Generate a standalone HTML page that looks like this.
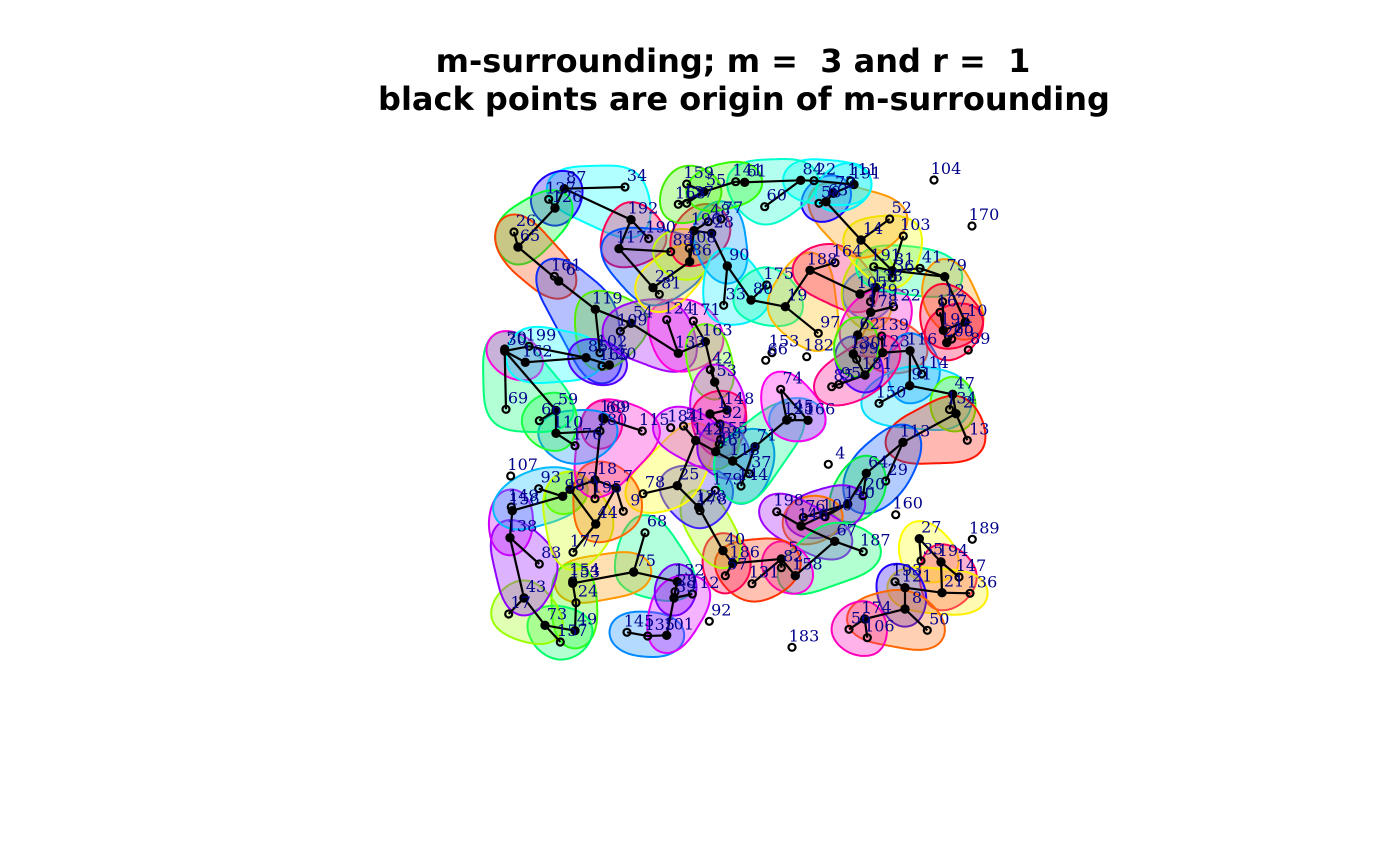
<!DOCTYPE html>
<html lang="en">
<head>
<meta charset="utf-8">
<title>m-surrounding chart</title>
<style>
html,body{margin:0;padding:0;background:#fff;}
svg{display:block;}
.title{font-family:"DejaVu Sans",sans-serif;font-weight:bold;font-size:32px;fill:#000;white-space:pre;}
.lbl{font-family:"DejaVu Serif",serif;font-size:16px;fill:#00008b;text-anchor:middle;}
</style>
</head>
<body>
<svg id="chart" xmlns="http://www.w3.org/2000/svg" width="1400" height="866" viewBox="0 0 1400 866">
  <text class="title" x="733" y="72" text-anchor="middle" xml:space="preserve">m-surrounding; m =  3 and r =  1</text>
  <text class="title" x="744" y="110" text-anchor="middle">black points are origin of m-surrounding</text>
  <g id="hulls"></g>
  <g id="links"></g>
  <g id="points"></g>
  <g id="labels"></g>
</svg>
<script>
const pointIds=["34","87","127","126","26","65","161","6","119","102",
"54","109","192","190","117","88","86","108","23","81",
"124","171","163","133","42","53","70","30","199","162",
"85","165","120","69","59","66b","110","176","169","69b",
"180","18","173","98","93","195","7","9","44","177",
"138","156","149b","83","43","17","73","157","49","24",
"154","153b","75","68","78","25","179","128","178b","40",
"186","57","132","29b","39","112","145","135","101","92",
"107","115","184","51","1","148","32","142","155","38",
"46","118","71","37","144","159","55","168","137","196",
"48","28","77","90","33","141","61","60","84","22",
"111","191","72","63","58","14","52","103","104","170",
"191b","31","36","41","79","164","188","97","19","80",
"175","153","66","182","74","85b","95","105","138b","149",
"122","178","62","139","123","116","130","99","181","114",
"91","150","47","134","2","13","12","167","10","197",
"200","15","89","125","45","166","4","113","64","29",
"20","160","140","100","198","76","146","67","187","5",
"82","158","131","27","189","35","194","147","193","121",
"21","136","8","50","174","56","106","183"];
const xValues=[145,84.3,68.7,75,34,38,74.3,78.7,115.3,120,
151,140.3,151,168.7,139,190.7,209.7,209.3,173,179.3,
186.7,213.3,225.3,198.3,230.3,234.7,24.7,24.7,49,45.3,
106,122,129.3,26,76,59.3,76,95,123,124,
120,115,90,82.7,58.7,115,136,143.3,115.7,93,
30,32.3,31.3,59.3,44,28.7,65,80.3,95,96,
92.7,92.7,153.7,165,163,197.3,235.3,218.7,220,243,
252.7,245.3,197.3,195,194,212.3,147,167.7,186.7,229.3,
30.7,162.3,190.7,203.5,230,247,240,215.7,240.7,239.3,
235.7,252.7,275,269.3,261,206.7,224,198.3,206.7,214,
228.3,231.7,241,247.3,243.7,255.7,264.7,284.7,320.7,334,
370.7,374,353.3,346,339,381,409.7,423.3,454,492,
393.7,412.3,412.3,440,464.7,355,330,338.3,305.3,271,
286.7,292,285.7,326.7,300.7,351.7,359,380,395.7,390.5,
413.5,390.7,377.7,401.7,402.7,430,373.3,376.7,385,441.7,
429.7,399,472.7,469.5,476,487.3,462.7,460,485.3,463.3,
466.7,471.7,488.3,306.7,311.7,328,348.3,423,386.3,405.7,
383,415.7,367.7,345,296.7,323.3,321,354.7,383.3,301.3,
301.3,315.3,272,439.3,492.3,441,461,479,415,425,
462,490,425,447.3,384.7,369,387.3,312];
const yValues=[483,481.3,470.7,462,438,423,393.7,389,360.7,317.3,
346.7,338.7,450.3,431.3,421.3,418.3,408.3,421.7,382.3,375.7,
350.3,349,328.3,316.7,300.3,288,321,319,323.7,307.7,
312.3,304,305,260.7,259.5,249.3,236.7,224.3,252,251,
239,190,180.7,173.7,181.3,171.3,182.3,158.7,146,117.7,
132.3,159.3,163,106,72,56,44.7,28,39.3,67.3,
89,86.7,98,137.3,176.3,184.3,179.7,162.7,159.3,119.3,
106.7,94.3,88.3,78.3,72,76,37.7,34,34.7,48.7,
194,239,242.3,244,256,260,246,229.5,230.7,225.7,
218.3,209,223.3,196.3,184,486,478.3,465.7,466.7,439.3,
448.3,436.7,451,404,364.7,488.3,487.7,463.3,489.7,489.3,
489,485.5,476.7,468.3,466.7,430,451,434,490,444,
403.3,399.3,392.3,401.7,393.3,407.3,399.7,336.7,363.3,370,
385,317.3,309.7,313.3,280.7,283.3,285.7,376,382.7,368.3,
363.3,357.7,335,334,317.3,319.3,316,310.7,295,296,
284.3,266.7,275.7,260.5,256.3,229.7,368.3,357.7,348,339.7,
327.3,331,320,250,252.7,249.7,205.7,227.7,196.7,189,
174.3,155.3,166,153.3,158.3,152.7,144,128.7,118.3,111,
102.3,94.3,86.3,131.3,130.7,109.3,108,93,88.3,82.3,
77.3,76.7,61,39.7,51,40.7,32.3,22.7];
const originIds=["87","126","65","6","119","54","192","117","86","23","163","133","53","30","162","85","120","59","110","169","69b","18","173","98","7","44","138","156","43","73","49","153b","75","25","128","40","186","132","39","101","1","148","142","46","118","71","55","196","28","90","61","84","191","63","72","14","31","79","188","19","80","105","138b","178","62","123","116","130","181","91","47","2","10","197","200","125","166","113","64","140","146","67","5","158","27","194","121","21","8","174"];
const hullMembers=[
["34","87","192"],["87","127","126"],["26","65","126"],["26","65","161","6"],["161","6","119","165"],
["119","54","109","102"],["54","109","133","124"],["124","171","133","163"],["192","190","117"],["117","88","86","23"],
["23","81","86"],["88","86","108"],["196","48","28","108"],["77","28","90"],["90","33","80"],
["80","175","19"],["19","97","188"],["188","164","105"],["105","138b","149"],["191b","105","178"],
["62","178","122","139"],["139","123","116"],["116","114","91"],["150","91","47","134"],["47","134","2"],
["2","13","113"],["113","64","29","20"],["64","20","140"],["140","100","76"],["146","76","100"],
["198","146","67"],["67","187","158"],["5","82","158"],["186","5","82","131"],["40","186","57"],
["128","178b","40"],["25","179","128","178b"],["78","25","142"],["75","68","132"],["154","153b","75"],
["154","153b","24","49"],["73","157","49"],["43","17","73"],["138","83","43"],["149b","156","138"],
["149b","156","93","98","173"],["98","173"],["98","173","44","177"],["18","7","9","44"],["169","115","180","18"],
["169","69b","180"],["110","176","180"],["59","66b","110"],["30","70","69","59"],["30","70","162"],
["199","162","85"],["85","165","120"],["163","42","53"],["53","1","148","32"],["1","148","32","155"],
["184","51","142","46"],["46","155","38"],["118","46","155"],["71","37","144","118"],["125","118","144"],
["125","45","166"],["74","125","166"],["85b","95","181","123"],["130","99","181"],["62","130","99"],
["191b","31","41","79"],["14","103","31"],["63","14","52"],["58","63","72"],["72","111","191"],
["84","22","191"],["61","60","84"],["55","141","61"],["159","168","137","55"],["79","12","10"],
["12","167","197","10"],["197","200","15","10"],["27","35","194"],["194","147","21"],["121","21","136"],
["193","121","8"],["8","50","174"],["174","56","106"],["145","135","101"],["101","39","112"],["132","29b","39"]];
const hullColors=[
"#00ffff","#1a00ff","#00ff33","#ff4400","#0f2fff",
"#55ee00","#a000ff","#ff00e0","#ff0055","#0050ff",
"#ffee00","#bfff00","#ff0044","#00a0ff","#00f0ff",
"#00ffaa","#ffbb00","#ff0060","#3060ff","#ccdd00",
"#ff00cc","#ff5533","#0080ff","#00ddff","#55ff00",
"#ff1500","#0055ff","#00ee44","#8800ff","#ff7000",
"#a000ff","#00ff66","#ff00dd","#ff3300","#ff0055",
"#aaff00","#4020ff","#ffff00","#00ff88","#ff9900",
"#44ff00","#00ff66","#99ff00","#9000ff","#cc00ff",
"#00bbff","#33ff00","#ccff00","#ff6a00","#ff00cc",
"#ff0099","#0090ff","#22ff33","#00ff77","#ff00e0",
"#00ffff","#5000ff","#66ff00","#cc00ff","#ff0066",
"#cc00ff","#aadd00","#8a00ff","#0077ff","#00ff88",
"#00ccff","#ff00ee","#ff0088","#5500ff","#44ee00",
"#00ff99","#eeff00","#ff9900","#1a00ff","#00f0ff",
"#00ffff","#00ffcc","#33ff00","#44ee00","#ff9900",
"#ff0033","#ff0040","#ffff00","#ff0066","#ffee00",
"#2200ff","#ff6600","#ff00bb","#0088ff","#dd00ff","#7700ff"];
const linkPairs=[
["87","34"],["87","192"],["87","126"],["126","127"],["126","65"],["65","26"],["65","6"],["6","161"],["6","119"],["119","102"],
["119","54"],["54","109"],["54","133"],["133","124"],["133","163"],["163","171"],["163","53"],["53","42"],["53","148"],
["192","117"],["192","190"],["117","88"],["117","23"],["23","86"],["23","81"],["86","108"],["86","196"],["196","48"],["196","28"],
["28","90"],["90","33"],["90","80"],["80","175"],["80","19"],["19","188"],["19","97"],["188","164"],["188","105"],
["105","138b"],["138b","149"],["138b","178"],["178","122"],["178","62"],["62","130"],["130","99"],["130","181"],
["181","85b"],["181","95"],["181","123"],["123","139"],["123","116"],["116","114"],["116","91"],["91","150"],["91","47"],
["47","134"],["47","2"],["2","13"],["2","113"],["113","29"],["113","64"],["64","20"],["64","140"],["140","76"],["140","100"],["140","146"],
["146","198"],["146","67"],["67","187"],["67","158"],["158","5"],["5","82"],["5","186"],["5","131"],["186","57"],["186","40"],
["40","128"],["128","178b"],["128","25"],["128","179"],["25","78"],["25","142"],["142","51"],["142","46"],["46","118"],["46","155"],["46","38"],
["1","148"],["1","32"],["32","155"],["118","71"],["118","37"],["71","144"],["71","125"],["125","74"],["125","45"],["125","166"],["166","74"],
["30","69"],["30","70"],["30","199"],["30","162"],["30","59"],["162","85"],["199","85"],["85","120"],["120","165"],
["59","66b"],["59","110"],["110","176"],["110","180"],["180","169"],["180","18"],["169","115"],["169","69b"],
["18","195"],["18","7"],["7","9"],["7","44"],["18","173"],["44","173"],["44","177"],["98","93"],["98","173"],["98","156"],
["156","149b"],["156","138"],["138","83"],["138","43"],["43","17"],["43","73"],["73","157"],["73","49"],["49","24"],["24","153b"],["153b","154"],
["153b","75"],["75","68"],["75","132"],["132","29b"],["132","39"],["39","29b"],["39","112"],["39","101"],["101","135"],["135","145"],
["159","55"],["168","55"],["137","55"],["55","141"],["141","61"],["61","84"],["84","60"],["84","22"],["22","191"],["191","111"],["191","72"],["72","63"],["58","63"],
["63","14"],["14","52"],["14","31"],["31","103"],["31","191b"],["31","36"],["31","41"],["31","79"],["79","41"],["79","10"],
["197","12"],["197","167"],["197","10"],["200","15"],["200","197"],["200","10"],
["27","35"],["27","194"],["194","147"],["194","21"],["21","136"],["21","121"],["121","193"],["121","8"],["8","50"],["8","174"],["174","56"],["174","106"]];

const svgNS="http://www.w3.org/2000/svg";
const xScale=v=>480+v;
const yScale=v=>670-v;
const hullRadius=22;
const smoothSpan=12;
const pointIndex={};
pointIds.forEach((id,i)=>{pointIndex[id]=i;});
function px(id){const i=pointIndex[id];return [xScale(xValues[i]),yScale(yValues[i])];}
function convexHull(pts){
  const s=pts.slice().sort((a,b)=>a[0]-b[0]||a[1]-b[1]);
  const cross=(o,a,b)=>(a[0]-o[0])*(b[1]-o[1])-(a[1]-o[1])*(b[0]-o[0]);
  const lo=[];
  for(const p of s){while(lo.length>=2&&cross(lo[lo.length-2],lo[lo.length-1],p)<=0)lo.pop();lo.push(p);}
  const up=[];
  for(const p of s.slice().reverse()){while(up.length>=2&&cross(up[up.length-2],up[up.length-1],p)<=0)up.pop();up.push(p);}
  lo.pop();up.pop();
  return lo.concat(up);
}
function hullPath(pts,r){
  const h=convexHull(pts);
  const n=h.length;
  const raw=[];
  const step=2;
  for(let i=0;i<n;i++){
    const a=h[i],b=h[(i+1)%n],c=h[(i+2)%n];
    const dx=b[0]-a[0],dy=b[1]-a[1],len=Math.hypot(dx,dy)||1;
    const nx=dy/len,ny=-dx/len;
    const count=Math.max(1,Math.round(len/step));
    for(let k=0;k<count;k++){
      const t=k/count;
      raw.push([a[0]+dx*t+nx*r,a[1]+dy*t+ny*r]);
    }
    const ex=c[0]-b[0],ey=c[1]-b[1],el=Math.hypot(ex,ey)||1;
    const a0=Math.atan2(ny,nx);
    let a1=Math.atan2(-ex/el,ey/el);
    while(a1<a0)a1+=Math.PI*2;
    const arcLen=(a1-a0)*r;
    const steps=Math.max(1,Math.round(arcLen/step));
    for(let k=0;k<steps;k++){
      const an=a0+(a1-a0)*k/steps;
      raw.push([b[0]+Math.cos(an)*r,b[1]+Math.sin(an)*r]);
    }
  }
  const m=raw.length;
  const out=[];
  for(let i=0;i<m;i++){
    let sx=0,sy=0,w=0;
    for(let j=-smoothSpan;j<=smoothSpan;j++){
      const q=raw[((i+j)%m+m)%m];
      sx+=q[0];sy+=q[1];w++;
    }
    out.push([sx/w,sy/w]);
  }
  return "M"+out.map(q=>q[0].toFixed(1)+" "+q[1].toFixed(1)).join("L")+"Z";
}
const hullLayer=document.getElementById("hulls");
hullMembers.forEach((m,i)=>{
  const pts=m.filter(id=>id in pointIndex).map(px);
  const el=document.createElementNS(svgNS,"path");
  el.setAttribute("d",hullPath(pts,hullRadius));
  el.setAttribute("fill",hullColors[i]);
  el.setAttribute("fill-opacity","0.3");
  el.setAttribute("stroke",hullColors[i]);
  el.setAttribute("stroke-width","2");
  
  
  hullLayer.appendChild(el);
});
const linkLayer=document.getElementById("links");
linkPairs.forEach(pair=>{
  if(!(pair[0] in pointIndex)||!(pair[1] in pointIndex))return;
  const a=px(pair[0]),b=px(pair[1]);
  const el=document.createElementNS(svgNS,"line");
  el.setAttribute("x1",a[0]);el.setAttribute("y1",a[1]);
  el.setAttribute("x2",b[0]);el.setAttribute("y2",b[1]);
  el.setAttribute("stroke","#000");
  el.setAttribute("stroke-width","2.2");
  
  
  linkLayer.appendChild(el);
});
const pointLayer=document.getElementById("points");
const labelLayer=document.getElementById("labels");
pointIds.forEach(id=>{
  const p=px(id);
  const isOrigin=originIds.indexOf(id)>=0;
  const c=document.createElementNS(svgNS,"circle");
  c.setAttribute("cx",p[0]);c.setAttribute("cy",p[1]);
  c.setAttribute("r",isOrigin?"4.2":"3.5");
  c.setAttribute("fill",isOrigin?"#000":"none");
  c.setAttribute("stroke","#000");
  c.setAttribute("stroke-width",isOrigin?"1":"2.2");
  
  
  pointLayer.appendChild(c);
  const t=document.createElementNS(svgNS,"text");
  t.setAttribute("class","lbl");
  t.setAttribute("x",p[0]+12);
  t.setAttribute("y",p[1]-6);
  t.textContent=id.replace(/b$/,"");
  
  
  labelLayer.appendChild(t);
});
</script>
</body>
</html>
